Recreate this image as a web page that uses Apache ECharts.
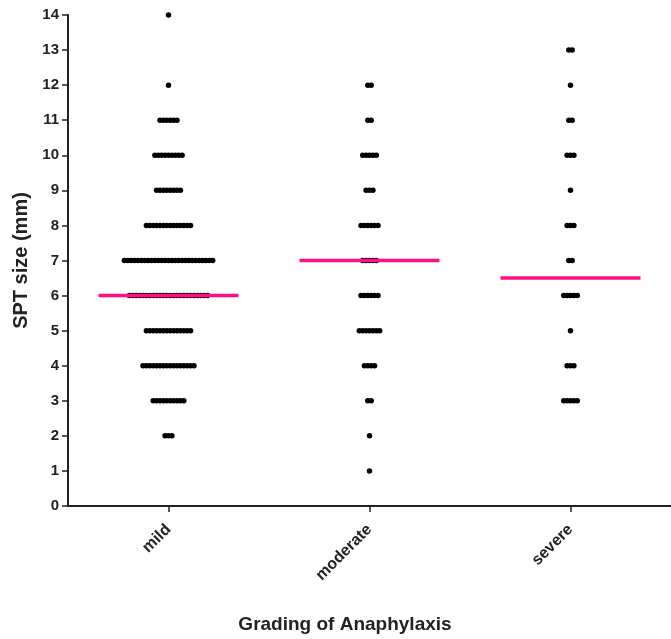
<!DOCTYPE html>
<html>
<head>
<meta charset="utf-8">
<script src="https://cdn.jsdelivr.net/npm/echarts@6/dist/echarts.min.js"></script>
<style>html,body{margin:0;padding:0;background:#fff;}#c{width:671px;height:639px;}</style>
</head>
<body>
<div id="c"></div>
<script>
var categories = ['mild', 'moderate', 'severe'];
var yTicks = [0,1,2,3,4,5,6,7,8,9,10,11,12,13,14];

var mildValues = [14, 12, 11, 10, 9, 8, 7, 6, 5, 4, 3, 2];
var mildCounts = [1, 1, 6, 9, 8, 14, 27, 24, 14, 16, 10, 3];

var moderateValues = [12, 11, 10, 9, 8, 7, 6, 5, 4, 3, 2, 1];
var moderateCounts = [2, 2, 5, 3, 6, 5, 6, 7, 4, 2, 1, 1];

var severeValues = [13, 12, 11, 10, 9, 8, 7, 6, 5, 4, 3];
var severeCounts = [2, 1, 2, 3, 1, 3, 2, 5, 1, 3, 5];

var medians = [6, 7, 6.5];

var groups = [
  [mildValues, mildCounts],
  [moderateValues, moderateCounts],
  [severeValues, severeCounts]
];

var DOT_GAP = 3.4;
var points = [];
groups.forEach(function (g, ci) {
  var vals = g[0], cnts = g[1];
  vals.forEach(function (v, k) {
    var n = cnts[k];
    for (var i = 0; i < n; i++) {
      points.push({
        value: [ci, v],
        symbolOffset: [(i - (n - 1) / 2) * DOT_GAP, 0]
      });
    }
  });
});

var medianData = medians.map(function (m, i) { return [i, m]; });

var FONT = '"Liberation Sans", Arial, sans-serif';
var chart = echarts.init(document.getElementById('c'));
chart.setOption({
  animation: false,
  backgroundColor: '#fff',
  grid: { left: 68, right: -10, top: 15, bottom: 133 },
  xAxis: {
    type: 'category',
    data: categories,
    boundaryGap: true,
    axisLine: { show: true, lineStyle: { color: '#222', width: 2 } },
    axisTick: { show: true, alignWithLabel: true, length: 6, lineStyle: { color: '#222', width: 1.5 } },
    axisLabel: { rotate: 45, margin: 21, color: '#222', fontFamily: FONT, fontSize: 16, fontWeight: 'bold' },
    splitLine: { show: false }
  },
  yAxis: {
    type: 'value',
    min: yTicks[0],
    max: yTicks[yTicks.length - 1],
    interval: 1,
    name: 'SPT size (mm)',
    nameLocation: 'middle',
    nameRotate: 90,
    nameGap: 30,
    nameTextStyle: { color: '#222', fontFamily: FONT, fontSize: 20, fontWeight: 'bold' },
    axisLine: { show: true, lineStyle: { color: '#222', width: 2 } },
    axisTick: { show: true, length: 6, lineStyle: { color: '#222', width: 1.5 } },
    axisLabel: { color: '#222', fontFamily: FONT, fontSize: 15, fontWeight: 'bold', margin: 9 },
    splitLine: { show: false }
  },
  graphic: [{
    type: 'text',
    x: 345,
    y: 625,
    style: {
      text: 'Grading of Anaphylaxis',
      textAlign: 'center',
      textVerticalAlign: 'middle',
      fill: '#222',
      font: 'bold 19px "Liberation Sans", Arial, sans-serif'
    }
  }],
  series: [
    {
      type: 'scatter',
      data: points,
      symbol: 'circle',
      symbolSize: 5.5,
      itemStyle: { color: '#000', opacity: 1 },
      z: 2
    },
    {
      type: 'scatter',
      data: medianData,
      symbol: 'rect',
      symbolSize: [140, 3.5],
      itemStyle: { color: '#ff1080', opacity: 1 },
      z: 3
    }
  ]
});
</script>
</body>
</html>
